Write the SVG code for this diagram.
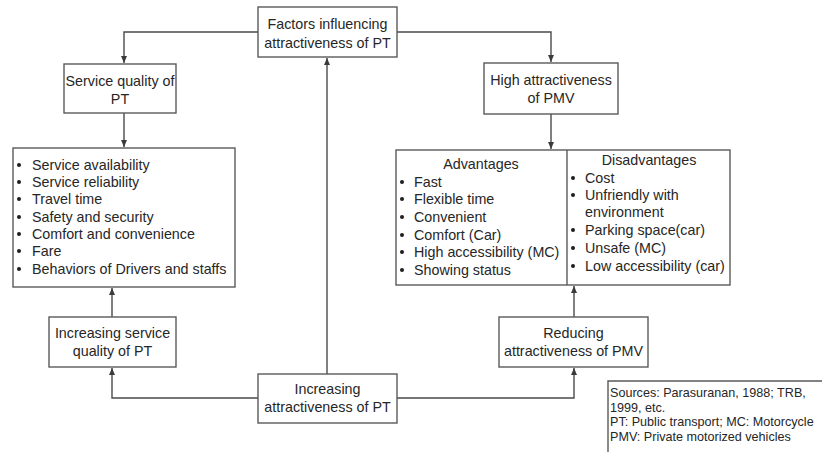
<svg xmlns="http://www.w3.org/2000/svg" width="822" height="452" viewBox="0 0 822 452">
  <style>
    .box { fill: #ffffff; stroke: #5a5a5a; stroke-width: 1.4; }
    .line { fill: none; stroke: #4a4a4a; stroke-width: 1.4; }
    text { font-family: "Liberation Sans", Arial, sans-serif; font-size: 14.3px; fill: #262626; }
    .c { text-anchor: middle; }
    .note { font-size: 12.6px; }
    .dot { fill: #1e1e1e; }
  </style>
  <defs>
    <marker id="arr" markerWidth="8" markerHeight="8" refX="7" refY="4" orient="auto" markerUnits="userSpaceOnUse">
      <path d="M0,1 L7,4 L0,7 Z" fill="#3a3a3a"/>
    </marker>
  </defs>

  <!-- connectors -->
  <g id="connectors">
    <polyline class="line" points="258,32 124,32 124,63" marker-end="url(#arr)"/>
    <polyline class="line" points="397,32 551,32 551,62" marker-end="url(#arr)"/>
    <polyline class="line" points="124,113 124,147" marker-end="url(#arr)"/>
    <polyline class="line" points="551,114 551,149" marker-end="url(#arr)"/>
    <polyline class="line" points="327,374 327,58" marker-end="url(#arr)"/>
    <polyline class="line" points="258,398 112,398 112,368" marker-end="url(#arr)"/>
    <polyline class="line" points="112,317 112,288" marker-end="url(#arr)"/>
    <polyline class="line" points="397,398 574,398 574,368" marker-end="url(#arr)"/>
    <polyline class="line" points="574,317 574,286" marker-end="url(#arr)"/>
  </g>

  <g id="factors">
    <rect class="box" x="258" y="7" width="139" height="50"/>
    <text class="c" x="327.5" y="29">Factors influencing</text>
    <text class="c" x="327.5" y="47.5">attractiveness of PT</text>
  </g>

  <g id="service-quality">
    <rect class="box" x="64" y="64" width="112" height="49"/>
    <text class="c" x="120" y="86">Service quality of</text>
    <text class="c" x="120" y="104">PT</text>
  </g>

  <g id="high-pmv">
    <rect class="box" x="484" y="63" width="134" height="51"/>
    <text class="c" x="551" y="85">High attractiveness</text>
    <text class="c" x="551" y="103">of PMV</text>
  </g>

  <g id="service-factors">
    <rect class="box" x="13" y="148" width="222" height="139"/>
    <g>
      <circle class="dot" cx="19" cy="165" r="2"/>
      <circle class="dot" cx="19" cy="182" r="2"/>
      <circle class="dot" cx="19" cy="199" r="2"/>
      <circle class="dot" cx="19" cy="217" r="2"/>
      <circle class="dot" cx="19" cy="234" r="2"/>
      <circle class="dot" cx="19" cy="251" r="2"/>
      <circle class="dot" cx="19" cy="269" r="2"/>
    </g>
    <text x="32" y="170">Service availability</text>
    <text x="32" y="187">Service reliability</text>
    <text x="32" y="204">Travel time</text>
    <text x="32" y="222">Safety and security</text>
    <text x="32" y="239">Comfort and convenience</text>
    <text x="32" y="256">Fare</text>
    <text x="32" y="274">Behaviors of Drivers and staffs</text>
  </g>

  <g id="pmv-pros-cons">
    <rect class="box" x="396" y="150" width="334" height="135"/>
    <line class="box" x1="567" y1="150" x2="567" y2="285"/>
    <text class="c" x="481" y="169">Advantages</text>
    <g>
      <circle class="dot" cx="402" cy="182" r="2"/>
      <circle class="dot" cx="402" cy="199" r="2"/>
      <circle class="dot" cx="402" cy="217" r="2"/>
      <circle class="dot" cx="402" cy="235" r="2"/>
      <circle class="dot" cx="402" cy="252" r="2"/>
      <circle class="dot" cx="402" cy="270" r="2"/>
    </g>
    <text x="414" y="187">Fast</text>
    <text x="414" y="204">Flexible time</text>
    <text x="414" y="222">Convenient</text>
    <text x="414" y="240">Comfort (Car)</text>
    <text x="414" y="257">High accessibility (MC)</text>
    <text x="414" y="275">Showing status</text>

    <text class="c" x="649" y="165">Disadvantages</text>
    <g>
      <circle class="dot" cx="573" cy="178" r="2"/>
      <circle class="dot" cx="573" cy="195" r="2"/>
      <circle class="dot" cx="573" cy="230" r="2"/>
      <circle class="dot" cx="573" cy="248" r="2"/>
      <circle class="dot" cx="573" cy="266" r="2"/>
    </g>
    <text x="585" y="183">Cost</text>
    <text x="585" y="200">Unfriendly with</text>
    <text x="585" y="217">environment</text>
    <text x="585" y="235">Parking space(car)</text>
    <text x="585" y="253">Unsafe (MC)</text>
    <text x="585" y="271">Low accessibility (car)</text>
  </g>

  <g id="increasing-service">
    <rect class="box" x="49" y="317" width="127" height="50"/>
    <text class="c" x="112.5" y="338">Increasing service</text>
    <text class="c" x="112.5" y="356">quality of PT</text>
  </g>

  <g id="reducing-pmv">
    <rect class="box" x="499" y="317" width="149" height="50"/>
    <text class="c" x="573.5" y="338">Reducing</text>
    <text class="c" x="573.5" y="356">attractiveness of PMV</text>
  </g>

  <g id="increasing-pt">
    <rect class="box" x="258" y="374" width="139" height="49"/>
    <text class="c" x="327.5" y="394">Increasing</text>
    <text class="c" x="327.5" y="412">attractiveness of PT</text>
  </g>

  <g id="notes">
    <polyline class="box" points="608,460 608,381 830,381" fill="none"/>
    <text class="note" x="610" y="397">Sources: Parasuranan, 1988; TRB,</text>
    <text class="note" x="610" y="411.6">1999, etc.</text>
    <text class="note" x="610" y="426.2">PT: Public transport; MC: Motorcycle</text>
    <text class="note" x="610" y="440.8">PMV: Private motorized vehicles</text>
  </g>
</svg>
